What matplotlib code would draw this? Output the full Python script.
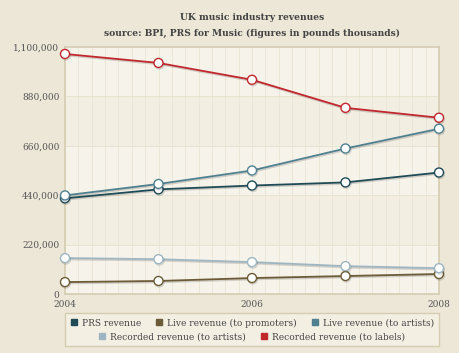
import numpy as np
import matplotlib
matplotlib.use("Agg")
import matplotlib.pyplot as plt
import matplotlib.patheffects as pe
from matplotlib.patches import Rectangle

# UK music industry revenues, pounds thousands
years = [2004, 2005, 2006, 2007, 2008]
prs = [426000, 466000, 483000, 497000, 541000]
live_promoters = [53000, 58000, 71000, 80000, 89000]
live_artists = [439000, 490000, 550000, 648000, 736000]
recorded_artists = [160000, 155000, 142000, 124000, 115000]
recorded_labels = [1069000, 1029000, 954000, 829000, 785000]

series = [
    ("PRS revenue", prs, "#1f4b57"),
    ("Live revenue (to promoters)", live_promoters, "#6b5b36"),
    ("Live revenue (to artists)", live_artists, "#4f8090"),
    ("Recorded revenue (to artists)", recorded_artists, "#9db6c2"),
    ("Recorded revenue (to labels)", recorded_labels, "#c1272d"),
]
yticks = [0, 220000, 440000, 660000, 880000, 1100000]
xticks = [2004, 2006, 2008]

plt.rcParams['font.family'] = ['DejaVu Serif']
bg = "#ede7d8"
fig = plt.figure(figsize=(4.6, 3.53), dpi=100, facecolor=bg)
ax = fig.add_axes([65 / 460, 1 - 294 / 353, 374 / 460, 247 / 353])
ax.set_facecolor("#f6f3ea")

# alternating bands
for i in range(len(yticks) - 1):
    if i % 2 == 1:
        ax.axhspan(yticks[i], yticks[i + 1], color="#f2eee2", zorder=0, lw=0)
for x in np.linspace(2004, 2008, 29):
    ax.axvline(x, color="#ebe6d8", lw=0.7, zorder=0.5)
for y in yticks[1:-1]:
    ax.axhline(y, color="#e8e2d0", lw=0.7, zorder=0.5)

handles = []
for name, vals, col in series:
    ax.plot(years, vals, color=col, lw=1.3, marker="o", ms=6.5,
            mfc="white", mec=col, mew=1.0, zorder=3, clip_on=False,
            path_effects=[pe.SimpleLineShadow(offset=(0.6, -1.0), alpha=0.15),
                          pe.Normal()])
    handles.append(plt.Line2D([], [], ls="none", marker="s", ms=4.5, mfc=col, mec=col, label=name))

ax.set_xlim(2004, 2008)
ax.set_ylim(0, 1100000)
ax.set_xticks(xticks)
ax.set_yticks(yticks)
ax.set_yticklabels([f"{v:,}" for v in yticks])
ax.tick_params(length=0, labelsize=6.5, colors="#555555", pad=4)
for s in ax.spines.values():
    s.set_color("#d6ccb2")
    s.set_linewidth(1.2)

cx = 252 / 460
fig.text(cx, 1 - 17 / 353, "UK music industry revenues", ha="center", va="center",
         fontsize=6.6, fontweight="bold", color="#444444")
fig.text(cx, 1 - 33 / 353, "source: BPI, PRS for Music (figures in pounds thousands)",
         ha="center", va="center", fontsize=6.6, fontweight="bold", color="#444444")

# legend box
fig.patches.append(Rectangle((65 / 460, 1 - 346 / 353), 374 / 460, 33 / 353,
                             transform=fig.transFigure, facecolor="#f3efe3",
                             edgecolor="#d6ccb2", lw=1))
fig.legend(handles=handles[:3], loc="center", bbox_to_anchor=(cx, 1 - 323 / 353),
           ncol=3, frameon=False, fontsize=6.5, handlelength=0.8, handletextpad=0.5,
           columnspacing=1.6, labelcolor="#444444")
fig.legend(handles=handles[3:], loc="center", bbox_to_anchor=(cx, 1 - 337 / 353),
           ncol=2, frameon=False, fontsize=6.5, handlelength=0.8, handletextpad=0.5,
           columnspacing=1.6, labelcolor="#444444")

fig.savefig("out.png", facecolor=bg)
